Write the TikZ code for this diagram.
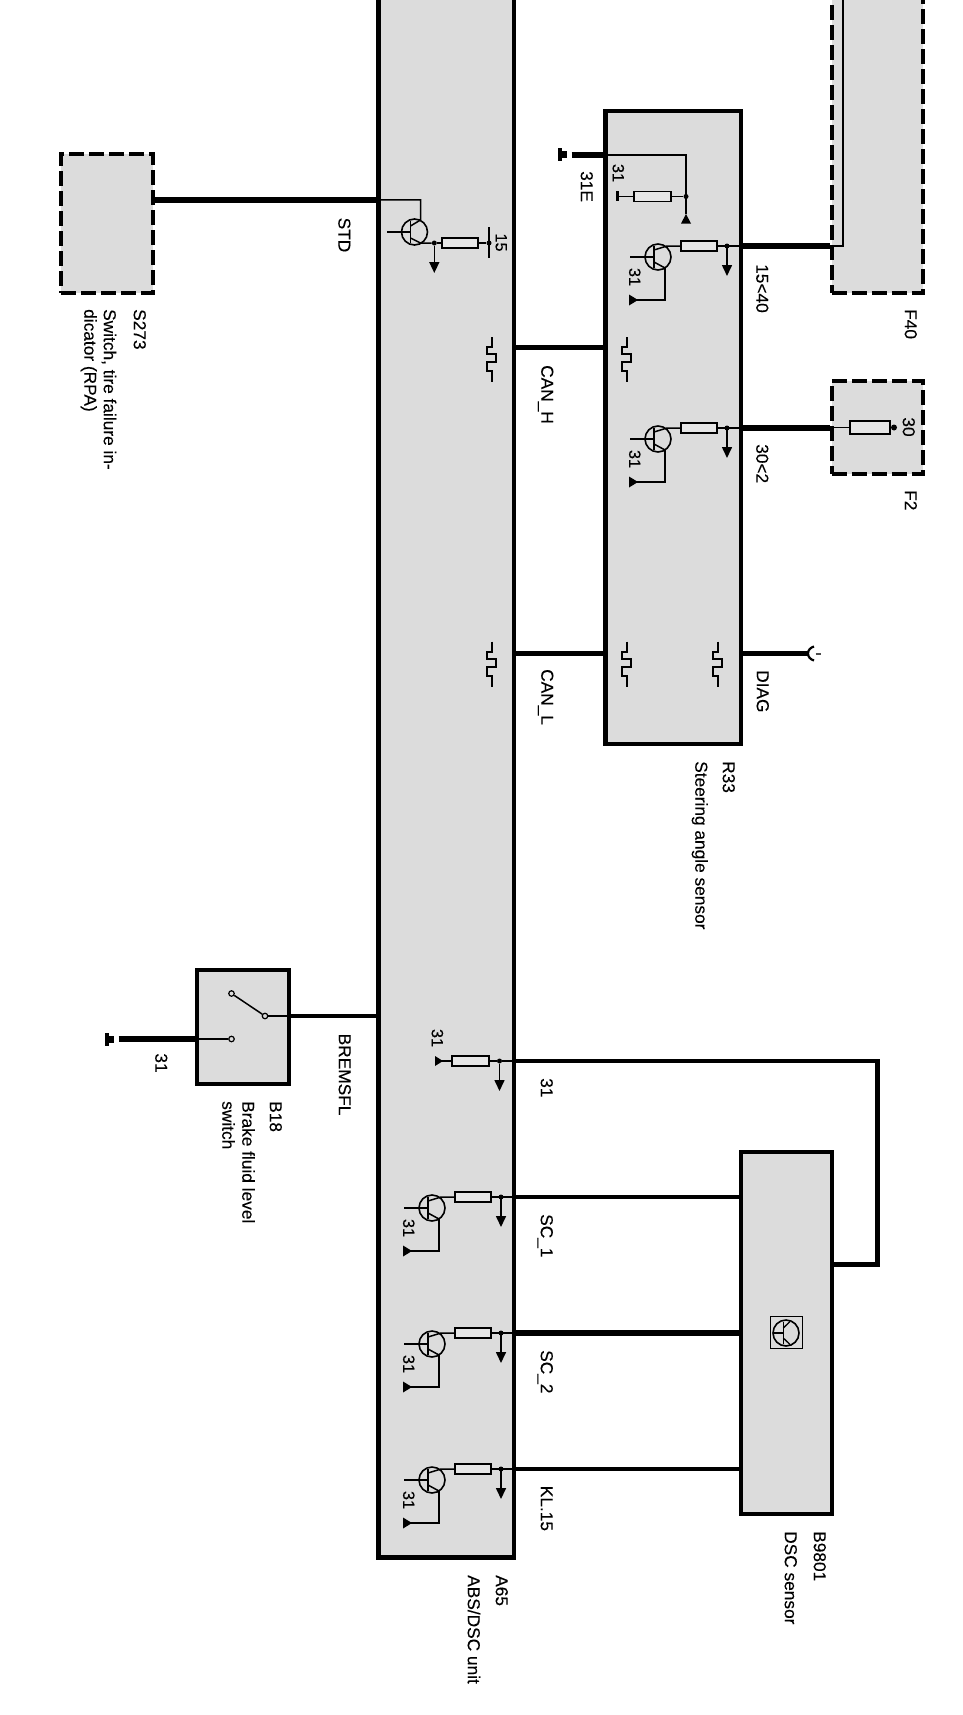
\documentclass[tikz,border=0pt]{standalone}
\usepackage{fontspec}
\setmainfont{Liberation Sans}[BoldFont=Liberation Sans,BoldFeatures={FakeBold=0.2}]
\usetikzlibrary{arrows.meta}
\definecolor{unitgray}{HTML}{DCDCDC}
\definecolor{resfill}{HTML}{E6E6E6}
\tikzset{
  unitbox/.style={draw=black,fill=unitgray,line width=4.2pt,inner sep=0pt,miter limit=10},
  dashbox/.style={unitbox,line width=4pt,dash pattern=on 15pt off 5pt},
  wirethick/.style={line width=5.5pt},
  wiremid/.style={line width=4.2pt},
  wirethin/.style={line width=1.5pt},
  resbox/.style={draw=black,fill=resfill,line width=1.6pt,inner sep=0pt},
  lab/.style={rotate=-90,anchor=west,inner sep=0pt,font=\fontsize{17.3}{19}\selectfont\bfseries,text height=12.4pt,text depth=0pt,align=left},
  mid/.style={rotate=-90,anchor=center,inner sep=0pt,font=\fontsize{17.3}{19}\selectfont\bfseries,text height=12.4pt,text depth=0pt},
  small/.style={rotate=-90,anchor=center,inner sep=0pt,font=\fontsize{16.3}{18}\selectfont\bfseries,text height=11.7pt,text depth=0pt},
  dotn/.style={circle,fill=black,inner sep=0pt,minimum size=5pt},
  contact/.style={circle,draw=black,fill=unitgray,line width=1.2pt,inner sep=0pt,minimum size=5.5pt},
  downtip/.style={-{Triangle[width=10pt,length=11pt]}},
  pics/transym/.style={code={
    \node[circle,draw=black,line width=1.6pt,minimum size=26pt,inner sep=0pt] (-c) at (0,0) {};
    \draw[line width=1.8pt] (-4,-11) -- (-4,11);
  }},
  pics/stage/.style={code={
    \coordinate (-n) at (0,0);
    \node[resbox,minimum width=36pt,minimum height=10pt] (-r) at (-28,0) {};
    \node[dotn] (-d) at (0,0) {};
    \pic (-t) at (-69,11) {transym};
    \coordinate (-tip) at (0,30);
    \coordinate (-g) at (-95,54);
    \draw[wirethin] (-r.east) -- (-n);
    \draw[wirethin] (-r.west) -- (-60,0) -- (-73,4);
    \draw[wirethin] (-97,11) -- (-73,11);
    \draw[wirethin] (-73,16) -- (-62,22);
    \draw[line width=1.8pt] (-62,22) -- (-62,54) -- (-g);
    \fill (-g) ++(-3,-5.5) -- ++(9,5.5) -- ++(-9,5.5) -- cycle;
    \draw[line width=1.6pt,downtip] (-n) -- (-tip);
    \node[small] (-l) at (-92,31) {31};
  }},
  pics/squig/.style={code={
    \draw[line width=1.7pt] (0,0) -- (0,10) -- (-5,10) -- (-5,17) -- (4,17) -- (4,25) -- (-5,25) -- (-5,34) -- (0,34) -- (0,45);
  }},
  pics/earth/.style={code={
    \fill (-4,-6.5) rectangle (-0.5,6.5);
    \fill (-0.5,-3.5) rectangle (5,3.5);
  }}
}
\begin{document}
\begin{tikzpicture}[x=1pt,y=-1pt]
\useasboundingbox (0,0) rectangle (962,1715);
\clip (0,0) rectangle (962,1715);
% units
\node[unitbox,minimum width=135.5pt,minimum height=1578pt] (A65) at (446.25,768.5) {};
\node[dashbox,minimum width=92pt,minimum height=139pt] (S273) at (107,223.5) {};
\node[unitbox,minimum width=135.5pt,minimum height=633.5pt] (R33) at (673.25,427.5) {};
\node[dashbox,minimum width=91pt,minimum height=323pt] (F40) at (877,131.5) {};
\node[dashbox,minimum width=91pt,minimum height=93pt] (F2) at (877,427.5) {};
\node[unitbox,minimum width=92pt,minimum height=114pt] (B18) at (243,1027) {};
\node[unitbox,minimum width=91pt,minimum height=362pt] (DSC) at (786.5,1333) {};
% free ends
\coordinate (gndE) at (571.7,155);
\coordinate (gndB) at (118.6,1039);
\coordinate (diagend) at (808,653.5);
\coordinate (f40up) at (843.3,-10);
\coordinate (loopa) at (877.4,1060.6);
\coordinate (loopb) at (877.4,1264.5);
% A65 upper transistor
\coordinate (t1n) at (434.3,243);
\pic (t1) at (414.5,232) {transym};
\node[resbox,minimum width=36pt,minimum height=10pt] (t1r) at (460,243) {};
\node[dotn] (t1d) at (t1n) {};
\node[dotn] (t1e) at (489,243) {};
\coordinate (t1tip) at (434.3,273);
\coordinate (t1col) at (420.5,200);
\coordinate (t1barA) at (387,232);
\draw[wirethin] (A65.west |- t1col) -- (t1col) -- (420.5,220) -- (410.5,226);
\draw[wirethin] (t1barA) -- (410.5,232);
\draw[wirethin] (410.5,238) -- (420.5,243) -- (t1d);
\draw[wirethin] (t1d) -- (t1r.west);
\draw[wirethin] (t1r.east) -- (t1e);
\draw[line width=1.6pt] (489,227) -- (489,258);
\draw[line width=1.6pt,downtip] (t1d) -- (t1tip);
\node[small] (l15) at (501.5,242.5) {15};
% lower stages
\pic (s1) at (501,1197) {stage};
\pic (s2) at (501,1333) {stage};
\pic (s3) at (501,1469) {stage};
\pic (p1) at (727,246) {stage};
\pic (p2) at (727,428) {stage};
% A65 resistor stage for 31
\coordinate (rn) at (499.5,1061);
\node[resbox,minimum width=37pt,minimum height=10pt] (rr) at (470.5,1061) {};
\node[dotn] (rd) at (rn) {};
\coordinate (rg) at (435,1061);
\coordinate (rtip) at (499.5,1091);
\draw[wirethin] (rg) -- (rr.west);
\draw[wirethin] (rr.east) -- (rd);
\fill (rg) ++(0,-5) -- ++(8,5) -- ++(-8,5) -- cycle;
\draw[line width=1.6pt,downtip] (rd) -- (rtip);
\node[small] (lr) at (437.6,1038) {31};
% R33 31E branch
\coordinate (ebr) at (686,155);
\coordinate (etri) at (686,214);
\node[resbox,minimum width=37pt,minimum height=10pt] (er) at (652.5,196.5) {};
\node[dotn] (ed) at (686,196.5) {};
\coordinate (eg) at (617.5,196.5);
\draw[wirethin] (R33.west |- gndE) -- (ebr) -- (etri);
\draw[wirethin] (ed) -- (er.east);
\draw[wirethin] (er.west) -- (eg);
\draw[line width=2.4pt] (617.5,191.5) -- (617.5,201.5);
\fill (etri) -- ++(5,9.5) -- ++(-10,0) -- cycle;
\node[small] (le) at (618.5,173) {31};
% wires
\draw[wirethick] (S273.east |- 0,200) -- (A65.west |- 0,200);
\draw[wirethick] (A65.east |- 0,347.7) -- (R33.west |- 0,347.7);
\draw[wirethick] (A65.east |- 0,653.5) -- (R33.west |- 0,653.5);
\draw[wirethick] (gndE) -- (R33.west |- gndE);
\pic (ge) at (562,155) {earth};
\draw[wirethick] (R33.east |- p1-n) -- (F40.west |- p1-n);
\draw[wirethin] (p1-n) -- (R33.east |- p1-n);
\draw[line width=2.2pt] (F40.west |- p1-n) -- (f40up |- p1-n) -- (f40up);
\draw[wirethick] (R33.east |- p2-n) -- (F2.west |- p2-n);
\draw[wirethin] (p2-n) -- (R33.east |- p2-n);
\draw[wirethick] (R33.east |- diagend) -- (diagend);
\draw[line width=2.2pt] (814,646.5) .. controls (810.5,647.5) and (808,650) .. (diagend) .. controls (808,657) and (810.5,659.5) .. (814,660.5);
\draw[line width=2pt,black!70] (815.5,654) -- (821,654);
% F2 fuse
\node[resbox,minimum width=40pt,minimum height=13pt] (fuse) at (870,427.5) {};
\node[dotn,minimum size=6pt] (fd) at (894,427.5) {};
\draw[wirethin] (F2.west |- fuse) -- (fuse.west);
\draw[wirethin] (fuse.east) -- (fd);
\node[mid] (l30) at (909,427) {30};
% B18
\pic (gb) at (109,1039) {earth};
\node[contact] (c1) at (231.5,993.5) {};
\node[contact] (c2) at (265,1016) {};
\node[contact] (c3) at (231.5,1039) {};
\draw[wirethin] (c1) -- (c2);
\draw[wirethin] (c2) -- (B18.east |- c2);
\draw[wirethin] (B18.west |- c3) -- (c3);
\draw[wirethick] (gndB) -- (B18.west |- gndB);
\draw[wiremid] (B18.east |- c2) -- (A65.west |- c2);
% lower wires
\draw[wirethin] (rd) -- (A65.east |- rd);
\draw[wirethin] (s1-n) -- (A65.east |- s1-n);
\draw[wirethin] (s2-n) -- (A65.east |- s2-n);
\draw[wirethin] (s3-n) -- (A65.east |- s3-n);
\draw[wiremid] (A65.east |- s1-n) -- (DSC.west |- s1-n);
\draw[line width=5.5pt] (A65.east |- s2-n) -- (DSC.west |- s2-n);
\draw[wiremid] (A65.east |- s3-n) -- (DSC.west |- s3-n);
\draw[wiremid,line join=miter] (A65.east |- loopa) -- (loopa) -- (loopb) -- (DSC.east |- loopb);
% DSC icon
\node[draw=black,fill=unitgray,line width=1.3pt,minimum width=32pt,minimum height=32pt,inner sep=0pt] (ico) at (786.3,1332.5) {};
\node[circle,draw=black,line width=1.6pt,minimum size=26pt,inner sep=0pt] (icoc) at (786,1333) {};
\draw[line width=1.6pt] (783.3,1322) -- (783.3,1344);
\draw[line width=1.3pt] (773,1333) -- (783.3,1333);
\draw[line width=1.3pt] (783.3,1328) -- (790,1321.5);
\draw[line width=1.3pt] (783.3,1338) -- (790,1344.5);
% squiggles
\pic (q1) at (491.7,337) {squig};
\pic (q2) at (626.7,337) {squig};
\pic (q3) at (491.7,641.7) {squig};
\pic (q4) at (626.7,641.7) {squig};
\pic (q5) at (717.7,641.7) {squig};
% labels
\node[lab] (tS273) at (140,309) {S273};
\node[lab] (tS273a) at (110,309) {Switch, tire failure in-};
\node[lab] (tS273b) at (90.5,309) {dicator (RPA)};
\node[lab] (tSTD) at (344.6,217.5) {STD};
\node[lab] (tCANH) at (547.5,365) {CAN\_H};
\node[lab] (tCANL) at (547.5,669) {CAN\_L};
\node[lab] (t31E) at (587,171) {31E};
\node[lab] (tF40) at (911,309) {F40};
\node[lab] (tF2) at (911,490) {F2};
\node[lab] (t15) at (762.5,264) {15<40};
\node[lab] (t30) at (762.5,444) {30<2};
\node[lab] (tDIAG) at (763,670) {DIAG};
\node[lab] (tR33) at (729,761) {R33};
\node[lab] (tR33a) at (701.5,761) {Steering angle sensor};
\node[lab] (tB18) at (276,1101) {B18};
\node[lab] (tB18a) at (248.5,1101) {Brake fluid level};
\node[lab] (tB18b) at (228.5,1101) {switch};
\node[lab] (tBR) at (345,1033.5) {BREMSFL};
\node[mid] (t31b) at (161.5,1063) {31};
\node[lab] (t31r) at (547,1078) {31};
\node[lab] (tSC1) at (547,1214) {SC\_1};
\node[lab] (tSC2) at (547,1350) {SC\_2};
\node[lab] (tKL) at (547,1485.6) {KL.15};
\node[lab] (tA65) at (502,1575) {A65};
\node[lab] (tA65a) at (474,1575) {ABS/DSC unit};
\node[lab] (tB98) at (820,1531) {B9801};
\node[lab] (tB98a) at (791,1531) {DSC sensor};
\end{tikzpicture}
\end{document}
